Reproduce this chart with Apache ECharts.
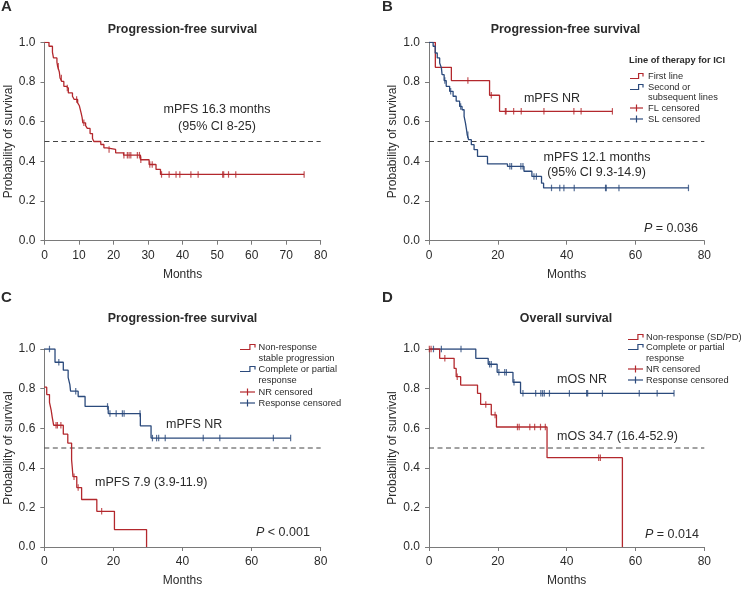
<!DOCTYPE html>
<html>
<head>
<meta charset="utf-8">
<script src="https://cdn.jsdelivr.net/npm/echarts@6/dist/echarts.min.js"></script>
<style>html,body{margin:0;padding:0;background:#fff}#c{width:741px;height:590px}</style>
</head>
<body>
<div id="c"></div>
<script>
// ---------------- DATA ----------------
// Kaplan–Meier step points: [months, survival probability after the drop]
const pfsAll = [[0,1],[1.3,0.98],[2.3,0.95],[2.6,0.921],[3.6,0.9],[3.8,0.879],[4.3,0.85],[4.5,0.82],[5.0,0.803],[5.6,0.778],[6.3,0.77],[6.9,0.745],[8.1,0.728],[8.6,0.712],[9.6,0.695],[10.1,0.68],[10.3,0.67],[10.6,0.644],[10.9,0.62],[11.1,0.594],[11.9,0.58],[12.4,0.566],[13.2,0.54],[13.9,0.515],[14.3,0.5],[16.3,0.485],[17.2,0.468],[18.1,0.46],[20.6,0.443],[22.9,0.431],[27.8,0.408],[30.3,0.384],[32.3,0.359],[33.6,0.334],[75.2,0.334]];
const pfsAllCens = [4.0,4.9,6.6,9.3,11.4,18.7,23.0,24.0,24.5,25.0,26.9,27.5,27.9,30.5,31.2,33.9,36.1,38.1,39.2,42.4,44.5,51.6,51.9,53.3,55.4,75.2];

const pfsFirstLine = [[0,1],[1.84,0.874],[6.5,0.807],[17.6,0.733],[20.5,0.652],[53.3,0.652]];
const pfsFirstLineCens = [11.3,18.1,22.2,22.4,24.6,26.8,33.4,42.1,44.2,53.3];
const pfsSecondLine = [[0,1],[1.2,0.98],[1.8,0.946],[2.4,0.921],[3.1,0.896],[3.6,0.871],[3.8,0.837],[4.4,0.807],[5.0,0.778],[6.0,0.753],[7.0,0.728],[7.9,0.703],[8.9,0.677],[9.6,0.66],[10.2,0.627],[10.6,0.593],[10.9,0.56],[11.1,0.534],[11.5,0.509],[12.3,0.484],[13.1,0.459],[14.1,0.425],[17.0,0.387],[22.8,0.375],[27.6,0.35],[29.9,0.324],[32.7,0.29],[33.3,0.266],[75.4,0.266]];
const pfsSecondLineCens = [4.6,6.3,9.2,11.3,23.5,24.0,26.7,27.3,30.5,31.2,35.6,38.0,39.2,42.2,51.3,51.5,55.2,75.4];

const pfsNonResp = [[0,0.807],[0.7,0.77],[1.5,0.73],[2.0,0.69],[2.3,0.655],[2.7,0.615],[5.5,0.57],[6.8,0.525],[7.9,0.44],[8.1,0.40],[8.3,0.355],[9.4,0.30],[10.8,0.24],[15.2,0.18],[20.3,0.088],[29.6,0]];
const pfsNonRespCens = [3.4,3.8,4.8,8.6,9.8,16.6];
const pfsResp = [[0,1],[3.1,0.933],[5.5,0.893],[6.9,0.857],[7.4,0.82],[7.6,0.787],[9.8,0.76],[11.8,0.71],[18.5,0.674],[27.8,0.612],[30.9,0.55],[71.3,0.55]];
const pfsRespCens = [1.5,4.2,9.1,18.3,19.0,20.8,22.6,23.1,27.7,31.3,32.5,33.1,35.0,46.0,50.8,66.3,71.3];

const osNonResp = [[0,1],[3.1,0.953],[7.3,0.902],[7.9,0.86],[9.2,0.818],[14.1,0.776],[15.0,0.72],[18.1,0.667],[19.6,0.606],[34.3,0.451],[56.2,0]];
const osNonRespCens = [0.1,0.6,4.6,8.2,16.5,19.2,25.7,26.2,29.3,30.7,32.4,33.8,49.3,49.8];
const osResp = [[0,1],[13.6,0.953],[17.2,0.923],[19.8,0.882],[24.4,0.832],[26.6,0.776],[71.2,0.776]];
const osRespCens = [1.3,3.6,9.3,17.6,18.1,20.3,22.0,22.5,24.7,27.3,31.0,32.5,33.0,33.5,35.0,40.8,45.8,46.1,50.4,61.1,66.3,71.2];

const medianLevel = 0.5;
const panelLetters = ['A','B','C','D'];
const panelTitles = ['Progression-free survival','Progression-free survival','Progression-free survival','Overall survival'];
const xIntervals = [10,20,20,20];

// ---------------- STYLE ----------------
const FONT = '"Liberation Sans", Arial, Helvetica, sans-serif';
const RED = '#b3282d';
const BLUE = '#2b4a7c';
const TXT = '#2b2b2b';

function stepAt(curve, t){
  let v = curve[0][1];
  for (const p of curve){ if (p[0] <= t) v = p[1]; else break; }
  return v;
}
function censPoints(curve, times){ return times.map(t => [t, stepAt(curve, t)]); }

const grids = [
  {left:44.5, top:42.3, width:276.2, height:198.4},
  {left:429, top:42.3, width:275.3, height:198.4},
  {left:44.3, top:349, width:276.4, height:198},
  {left:429, top:349, width:275.3, height:198}
];

const xAxes = grids.map((g,i)=>({
  type:'value', gridIndex:i, min:0, max:80, interval:xIntervals[i],
  name:'Months', nameLocation:'middle', nameGap:28,
  nameTextStyle:{fontFamily:FONT, fontSize:12, color:TXT},
  axisLine:{show:true, onZero:false, lineStyle:{color:'#7a7a7a', width:1}},
  axisTick:{show:true, length:4, lineStyle:{color:'#7a7a7a'}},
  axisLabel:{fontFamily:FONT, fontSize:12, color:TXT, margin:9},
  splitLine:{show:false}
}));
const yAxes = grids.map((g,i)=>({
  type:'value', gridIndex:i, min:0, max:1, interval:0.2,
  name:'Probability of survival', nameLocation:'middle', nameGap:30,
  nameTextStyle:{fontFamily:FONT, fontSize:12, color:TXT},
  axisLine:{show:true, lineStyle:{color:'#7a7a7a', width:1}},
  axisTick:{show:true, length:4, lineStyle:{color:'#7a7a7a'}},
  axisLabel:{fontFamily:FONT, fontSize:12, color:TXT, margin:9, formatter:v=>v.toFixed(1)},
  splitLine:{show:false}
}));

function kmLine(idx, data, color){
  return {type:'line', xAxisIndex:idx, yAxisIndex:idx, data, step:'end', showSymbol:false, silent:true,
    lineStyle:{color, width:1.3}, z:3, animation:false};
}
function cens(idx, curve, times, color){
  return {type:'scatter', xAxisIndex:idx, yAxisIndex:idx, data:censPoints(curve,times), symbol:'rect', symbolSize:[1.2,6.5],
    itemStyle:{color}, silent:true, z:4, animation:false};
}
function dashed(idx){
  return {type:'line', xAxisIndex:idx, yAxisIndex:idx, data:[[0,medianLevel],[80,medianLevel]], showSymbol:false, silent:true,
    lineStyle:{color:'#444', width:1, type:[5,3.5]}, z:2, animation:false};
}

const series = [
  dashed(0), kmLine(0,pfsAll,RED), cens(0,pfsAll,pfsAllCens,RED),
  dashed(1), kmLine(1,pfsFirstLine,RED), cens(1,pfsFirstLine,pfsFirstLineCens,RED),
  kmLine(1,pfsSecondLine,BLUE), cens(1,pfsSecondLine,pfsSecondLineCens,BLUE),
  dashed(2), kmLine(2,pfsResp,BLUE), cens(2,pfsResp,pfsRespCens,BLUE),
  kmLine(2,pfsNonResp,RED), cens(2,pfsNonResp,pfsNonRespCens,RED),
  dashed(3), kmLine(3,osResp,BLUE), cens(3,osResp,osRespCens,BLUE),
  kmLine(3,osNonResp,RED), cens(3,osNonResp,osNonRespCens,RED)
];

// ---------------- TEXT / LEGENDS ----------------
function txt(x, y, s, size, opts){
  return {type:'text', x, y, silent:true, z:10, style:Object.assign({
    text:s, fontFamily:FONT, fontSize:size, fill:TXT,
    textAlign:'left', align:'left', textVerticalAlign:'middle', verticalAlign:'middle'}, opts||{})};
}
function center(o){ o.style.textAlign='center'; o.style.align='center'; return o; }
function bold(o){ o.style.fontWeight='bold'; return o; }
function pval(x, y, rest){
  return {type:'text', x, y, silent:true, z:10, style:{
    text:'{i|P}{n|' + rest + '}', fontFamily:FONT, fontSize:12.5, fill:TXT,
    textAlign:'left', align:'left', textVerticalAlign:'middle', verticalAlign:'middle',
    rich:{i:{fontStyle:'italic', fontFamily:FONT, fontSize:12.5, fill:TXT}, n:{fontFamily:FONT, fontSize:12.5, fill:TXT}}}};
}
function stepIcon(x, y, w, color){
  return {type:'polyline', silent:true, z:10, shape:{points:[[x,y+2.5],[x+w*0.66,y+2.5],[x+w*0.66,y-2.5],[x+w,y-2.5],[x+w,y+0.5]]},
    style:{stroke:color, lineWidth:1.2, fill:null}};
}
function censIcon(x, y, w, color){
  return [{type:'line', silent:true, z:10, shape:{x1:x, y1:y, x2:x+w, y2:y}, style:{stroke:color, lineWidth:1.2}},
          {type:'line', silent:true, z:10, shape:{x1:x+w/2, y1:y-3.5, x2:x+w/2, y2:y+3.5}, style:{stroke:color, lineWidth:1.2}}];
}

const LG = 9.3;
const graphics = [
  bold(txt(1,7,panelLetters[0],15)), bold(txt(382,7,panelLetters[1],15)),
  bold(txt(1,298,panelLetters[2],15)), bold(txt(382,298,panelLetters[3],15)),
  bold(center(txt(182.5,30,panelTitles[0],12.4))), bold(center(txt(565.5,30,panelTitles[1],12.4))),
  bold(center(txt(182.5,319,panelTitles[2],12.4))), bold(center(txt(566,319,panelTitles[3],12.4))),
  // A
  center(txt(217,110,'mPFS 16.3 months',12.5)), center(txt(217,127,'(95% CI 8-25)',12.5)),
  // B
  center(txt(552,99,'mPFS NR',12.5)), center(txt(597,158,'mPFS 12.1 months',12.5)), center(txt(596.5,173,'(95% CI 9.3-14.9)',12.5)),
  pval(644,229,' = 0.036'),
  bold(txt(629,60,'Line of therapy for ICI',LG)),
  stepIcon(630,76,13,RED), txt(648,76,'First line',LG),
  stepIcon(630,87,13,BLUE), txt(648,87,'Second or',LG), txt(648,97.5,'subsequent lines',LG),
  ...censIcon(630,108,13,RED), txt(648,108,'FL censored',LG),
  ...censIcon(630,119,13,BLUE), txt(648,119,'SL censored',LG),
  // C
  txt(166,425,'mPFS NR',12.5), txt(95,483,'mPFS 7.9 (3.9-11.9)',12.5), pval(256,533,' < 0.001'),
  stepIcon(240,347,15,RED), txt(258.5,347,'Non-response',LG), txt(258.5,358,'stable progression',LG),
  stepIcon(240,369,15,BLUE), txt(258.5,369,'Complete or partial',LG), txt(258.5,380.5,'response',LG),
  ...censIcon(240,392,15,RED), txt(258.5,392,'NR censored',LG),
  ...censIcon(240,403,15,BLUE), txt(258.5,403,'Response censored',LG),
  // D
  txt(557,380,'mOS NR',12.5), txt(557,437,'mOS 34.7 (16.4-52.9)',12.5), pval(645,535,' = 0.014'),
  stepIcon(628,337,15,RED), txt(646,337,'Non-response (SD/PD)',LG),
  stepIcon(628,347,15,BLUE), txt(646,347,'Complete or partial',LG), txt(646,358,'response',LG),
  ...censIcon(628,369,15,RED), txt(646,369,'NR censored',LG),
  ...censIcon(628,380,15,BLUE), txt(646,380,'Response censored',LG)
];

const chart = echarts.init(document.getElementById('c'), null, {renderer:'canvas'});
chart.setOption({
  backgroundColor:'#ffffff',
  animation:false,
  grid:grids,
  xAxis:xAxes,
  yAxis:yAxes,
  series:series,
  graphic:graphics
});
</script>
</body>
</html>
